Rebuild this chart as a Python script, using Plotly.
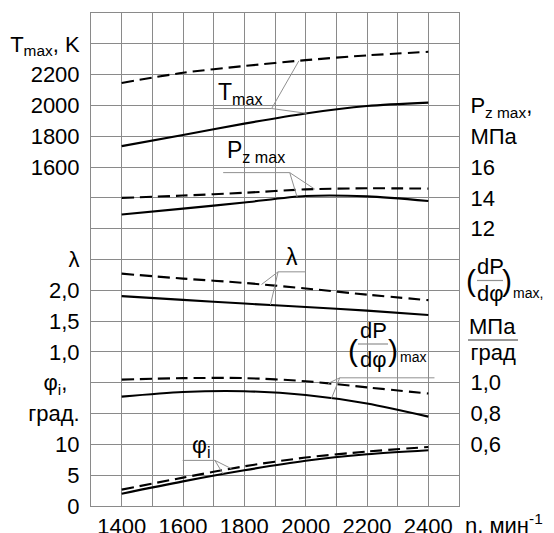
import numpy as np
import plotly.graph_objects as go

# ---------------- data ----------------
n = [1400, 1600, 1800, 2000, 2200, 2400]

t_max_dashed = [2146, 2212, 2256, 2294, 2325, 2348]
t_max_solid = [1736, 1808, 1882, 1948, 1996, 2018]

pz_max_dashed = [14.0, 14.15, 14.33, 14.55, 14.62, 14.6]
pz_max_solid = [12.92, 13.3, 13.7, 14.12, 14.1, 13.8]

lam_dashed = [2.27, 2.19, 2.12, 2.03, 1.93, 1.84]
lam_solid = [1.905, 1.845, 1.785, 1.73, 1.67, 1.6]

dpdphi_dashed = [1.02, 1.03, 1.03, 1.01, 0.97, 0.93]
dpdphi_solid = [0.91, 0.94, 0.945, 0.92, 0.865, 0.78]

phi_dashed = [2.66, 4.6, 6.44, 7.86, 8.83, 9.58]
phi_solid = [2.0, 4.0, 5.8, 7.35, 8.4, 9.05]

# tick values / labels
n_ticks = [1400, 1600, 1800, 2000, 2200, 2400]
n_labels = ["1400", "1600", "1800", "2000", "2200", "2400"]

t_ticks = [1600, 1800, 2000, 2200, 2400]
t_labels = ["1600", "1800", "2000", "2200", "T<sub>max</sub>, K"]

lam_ticks = [1.0, 1.5, 2.0, 2.5]
lam_labels = ["1,0", "1,5", "2,0", "λ"]

phi_ticks = [0, 5, 10, 15, 20]
phi_labels = ["0", "5", "10", "град.", "φ<sub>i</sub>,\u00a0\u00a0"]

pz_ticks = [12, 14, 16, 18, 20]
pz_labels = ["12", "14", "16", "МПа", "P<sub>z max</sub>,"]

dp_ticks = [0.6, 0.8, 1.0, 1.2]
dp_labels = ["0,6", "0,8", "1,0", "град"]

# ---------------- scales: value at grid row 0 and value per grid row ----------------
SCALE = {"t": (-600, 200), "lam": (-1.5, 0.5), "phi": (0, 5), "pz": (-6, 2), "dp": (0.2, 0.2)}
ROWS = 16


def rng(key):
    v0, st = SCALE[key]
    return [v0, v0 + ROWS * st]


def to_row(val, key):
    v0, st = SCALE[key]
    return (val - v0) / st


FONT = "Liberation Sans, Arial, sans-serif"
GRID = "#8a8a8a"
LEAD = "#909090"
FS = 22

fig = go.Figure()

series = [
    (t_max_dashed, "y2", True), (t_max_solid, "y2", False),
    (pz_max_dashed, "y5", True), (pz_max_solid, "y5", False),
    (lam_dashed, "y3", True), (lam_solid, "y3", False),
    (dpdphi_dashed, "y6", True), (dpdphi_solid, "y6", False),
    (phi_dashed, "y4", True), (phi_solid, "y4", False),
]
for vals, ax, dashed in series:
    fig.add_trace(go.Scatter(
        x=n, y=vals, yaxis=ax, mode="lines",
        line=dict(color="black", width=2.1, shape="spline", smoothing=0.8,
                  dash="12px,6px" if dashed else "solid"),
        hoverinfo="skip", showlegend=False))

common_tick = dict(ticks="outside", ticklen=6, tickcolor="rgba(0,0,0,0)",
                   showgrid=False, zeroline=False, showline=False, automargin=False,
                   tickfont=dict(size=FS, color="black", family=FONT))

fig.update_layout(
    width=554, height=533,
    margin=dict(l=91, r=95, t=13, b=27, autoexpand=False),
    paper_bgcolor="white", plot_bgcolor="white",
    showlegend=False,
    font=dict(family=FONT, size=FS, color="black"),
    xaxis=dict(range=[1300, 2500], tickmode="array", tickvals=n_ticks, ticktext=n_labels,
               showgrid=True, gridcolor=GRID, gridwidth=1.2, zeroline=False,
               minor=dict(tickmode="linear", tick0=1300, dtick=100, showgrid=True,
                          gridcolor=GRID, gridwidth=1.2, ticks=""),
               showline=True, mirror=True, linecolor=GRID, linewidth=1.2, automargin=False,
               ticks="",
               tickfont=dict(size=FS, color="black", family=FONT)),
    yaxis=dict(range=[0, ROWS], tick0=0, dtick=1, showgrid=True, gridcolor=GRID,
               gridwidth=1.2, zeroline=False, showticklabels=False, ticks="",
               showline=True, mirror=True, linecolor=GRID, linewidth=1.2, automargin=False),
    yaxis2=dict(overlaying="y", side="left", range=rng("t"), tickmode="array",
                tickvals=t_ticks, ticktext=t_labels, **common_tick),
    yaxis3=dict(overlaying="y", side="left", range=rng("lam"), tickmode="array",
                tickvals=lam_ticks, ticktext=lam_labels, **common_tick),
    yaxis4=dict(overlaying="y", side="left", range=rng("phi"), tickmode="array",
                tickvals=phi_ticks, ticktext=phi_labels, **common_tick),
    yaxis5=dict(overlaying="y", side="right", range=rng("pz"), tickmode="array",
                tickvals=pz_ticks, ticktext=pz_labels, **common_tick),
    yaxis6=dict(overlaying="y", side="right", range=rng("dp"), tickmode="array",
                tickvals=dp_ticks, ticktext=dp_labels, **common_tick),
)


# ---------------- callout leaders (label underline + two ticks to the curves) ----------------
def leader(x0, x1, row, pivot, key, xd, dvals, xs, svals):
    shapes = [dict(type="line", xref="x", yref="y", x0=x0, x1=x1, y0=row, y1=row,
                   line=dict(color=LEAD, width=1))]
    for xt, vals in ((xd, dvals), (xs, svals)):
        yt = to_row(float(np.interp(xt, n, vals)), key)
        shapes.append(dict(type="line", xref="x", yref="y", x0=pivot, y0=row, x1=xt, y1=yt,
                           line=dict(color=LEAD, width=1)))
    return shapes


shapes = []
shapes += leader(1697, 1889, 12.9, 1889, "t", 1978, t_max_dashed, 2003, t_max_solid)
shapes += leader(1731, 1948, 10.82, 1948, "pz", 2030, pz_max_dashed, 1972, pz_max_solid)
shapes += leader(1910, 2000, 7.6, 1910, "lam", 1856, lam_dashed, 1885, lam_solid)
shapes += leader(2111, 2420, 4.16, 2111, "dp", 2073, dpdphi_dashed, 2084, dpdphi_solid)
shapes += leader(1599, 1704, 1.48, 1704, "phi", 1758, phi_dashed, 1731, phi_solid)


# pixel -> paper helpers for the text pieces
def PX(px):
    return (px - 91) / 368.0


def PY(py):
    return (506 - py) / 493.0


# fraction bars and underline
for (xa, xb, yy, col) in [(477, 503, 280.5, LEAD), (358, 388, 344, LEAD), (468, 518, 340, "#333333")]:
    shapes.append(dict(type="line", xref="paper", yref="paper", x0=PX(xa), x1=PX(xb),
                       y0=PY(yy), y1=PY(yy), line=dict(color=col, width=1.2)))

fig.update_layout(shapes=shapes)

ann = []


def txt(s, px, py, size=FS, xanchor="center"):
    ann.append(dict(text=s, x=PX(px), y=PY(py), xref="paper", yref="paper",
                    xanchor=xanchor, yanchor="middle", showarrow=False,
                    font=dict(size=size, family=FONT, color="black")))


# in-plot labels
txt("T<sub>max</sub>", 240, 93, 23)
txt("P<sub>z max</sub>", 256, 151, 23)
txt("λ", 292, 257, 23)
txt("φ<sub>i</sub>", 201, 446, 23)
txt("(", 353, 350, 30)
txt("dP", 373, 330, FS)
txt("dφ", 373, 359, FS)
txt(")", 393, 350, 30)
txt("max", 398, 357, 14, "left")

# right-side unit label (dP/dφ)max, МПа / град
txt("(", 471, 280, 30)
txt("dP", 490, 266, FS)
txt("dφ", 490, 293, FS)
txt(")", 507, 280, 30)
txt("max,", 511, 293, 14, "left")
txt("МПа", 467, 326, FS, "left")

# x-axis unit
ann.append(dict(text="n, мин<sup>-1</sup>", x=PX(463), y=PY(524), xref="paper", yref="paper",
                xanchor="left", yanchor="middle", showarrow=False,
                font=dict(size=FS, family=FONT, color="black")))

fig.update_layout(annotations=ann)

fig.write_html("out.html",
               config={"displayModeBar": False},
               post_script="document.body.style.margin='0px';document.body.style.padding='0px';"
                           "window.dispatchEvent(new Event('resize'));")
